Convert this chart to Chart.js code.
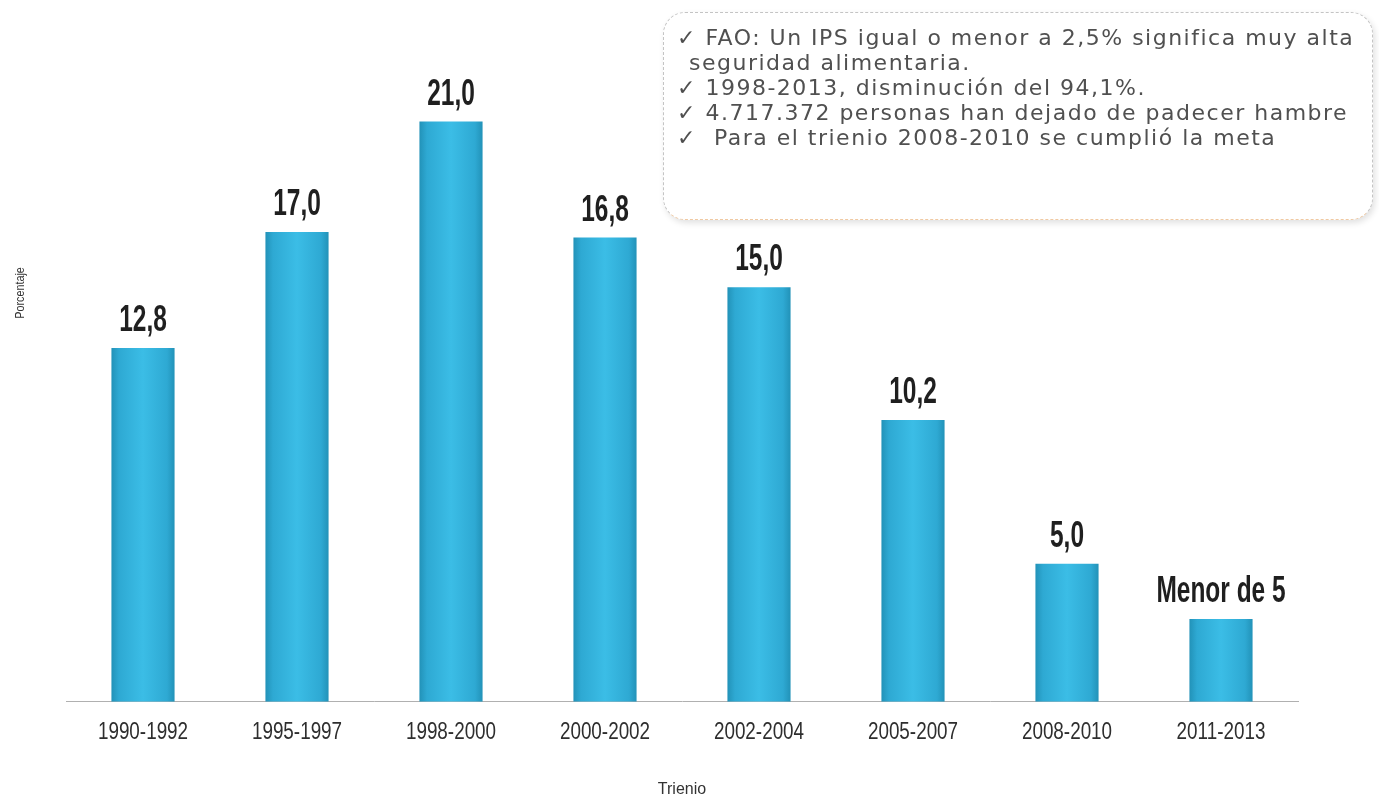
<!DOCTYPE html>
<html>
<head>
<meta charset="utf-8">
<script src="https://cdn.jsdelivr.net/npm/chart.js@4.4.1/dist/chart.umd.min.js"></script>
<style>
  html,body{margin:0;padding:0;background:#fff;}
  #wrap{position:relative;width:1379px;height:803px;}
  #note{
    position:absolute;left:663px;top:12px;width:710px;height:208px;box-sizing:border-box;
    border:1.5px dashed #c4c4c4;border-bottom-color:#f0c9a2;border-radius:22px;
    background:#fff;box-shadow:2px 3px 6px rgba(0,0,0,0.12);
    padding:12px 0 0 13px;font-family:"DejaVu Sans",sans-serif;font-size:22px;
    line-height:25px;color:#505050;white-space:nowrap;letter-spacing:1.5px;
  }
  #note div{padding-left:12px;text-indent:-12px;}
</style>
</head>
<body>
<div id="wrap">
  <canvas id="ipsChart" width="1379" height="803"></canvas>
  <div id="note">
    <div>✓ FAO: Un IPS igual o menor a 2,5% significa muy alta<br>seguridad alimentaria.</div>
    <div>✓ 1998-2013, disminución del 94,1%.</div>
    <div>✓ 4.717.372 personas han dejado de padecer hambre</div>
    <div>✓&nbsp; Para el trienio 2008-2010 se cumplió la meta</div>
  </div>
</div>
<script>
/* ========= DATA ========= */
const TRIENIOS = ["1990-1992","1995-1997","1998-2000","2000-2002","2002-2004","2005-2007","2008-2010","2011-2013"];
const IPS      = [12.8, 17.0, 21.0, 16.8, 15.0, 10.2, 5.0, 3.0];
const LABELS   = ["12,8","17,0","21,0","16,8","15,0","10,2","5,0","Menor de 5"];

/* ========= BAR GRADIENT ========= */
function barFill(c){
  const chart = c.chart, x = chart.scales.x;
  if(!x || !chart.chartArea) return "#35b6e0";
  const cx = x.getPixelForValue(c.dataIndex);
  const w = x.width / TRIENIOS.length * 0.41 / 2;
  const g = chart.ctx.createLinearGradient(cx - w, 0, cx + w, 0);
  g.addColorStop(0, "#2292b8");
  g.addColorStop(0.12, "#2ea9d3");
  g.addColorStop(0.5, "#3bbde6");
  g.addColorStop(0.88, "#2ea9d3");
  g.addColorStop(1, "#2292b8");
  return g;
}

/* ========= NARROW TEXT ========= */
// no narrow font installed, so squeeze Liberation Sans horizontally
function narrowText(ctx, txt, x, y, sx){
  ctx.save();
  ctx.scale(sx, 1);
  ctx.fillText(txt, x / sx, y);
  ctx.restore();
}

const textLayer = {
  id:"textLayer",
  afterDatasetsDraw(chart){
    const ctx = chart.ctx, xs = chart.scales.x;
    ctx.save();
    ctx.textAlign = "center";

    // values above bars
    ctx.font = "bold 36px 'Liberation Sans'";
    ctx.fillStyle = "#1f1f1f";
    ctx.textBaseline = "alphabetic";
    chart.getDatasetMeta(0).data.forEach((bar,i)=>{
      narrowText(ctx, LABELS[i], bar.x, bar.y - 17, 0.68);
    });

    // category labels
    ctx.font = "23px 'Liberation Sans'";
    ctx.fillStyle = "#2e2e2e";
    ctx.textBaseline = "middle";
    TRIENIOS.forEach((t,i)=>{
      narrowText(ctx, t, xs.getPixelForValue(i), xs.top + 31, 0.82);
    });

    // y title
    ctx.translate(20, 293);
    ctx.rotate(-Math.PI/2);
    ctx.font = "13px 'Liberation Sans'";
    ctx.fillStyle = "#333";
    narrowText(ctx, "Porcentaje", 0, 0, 0.83);
    ctx.restore();
  }
};

new Chart(ipsChart,{
  type:"bar",
  data:{
    labels:TRIENIOS,
    datasets:[{
      data:IPS,
      backgroundColor:barFill,
      barPercentage:0.82,
      categoryPercentage:0.5
    }]
  },
  options:{
    responsive:false,
    animation:false,
    layout:{padding:{left:66,right:81,top:11,bottom:0}},
    plugins:{legend:{display:false},tooltip:{enabled:false}},
    scales:{
      y:{display:false,min:0,max:25},
      x:{
        grid:{display:false},
        border:{display:true,color:"#b0b0b0",width:1},
        ticks:{display:false,padding:0},
        title:{display:true,text:"Trienio",color:"#333",
               font:{family:"Liberation Sans",size:16},padding:{top:70,bottom:4}}
      }
    }
  },
  plugins:[textLayer]
});
</script>
</body>
</html>
